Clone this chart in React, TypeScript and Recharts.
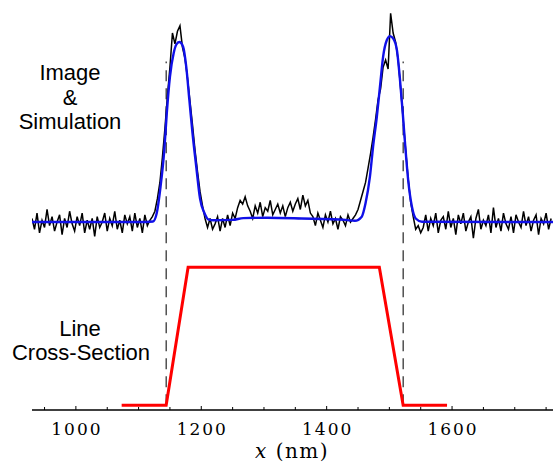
import { ComposedChart, Line, XAxis, YAxis, ReferenceLine } from "recharts";

// measured image profile, sampled every 4 nm from 930 nm
const signalStart = 930;
const signalStep = 4;
const signalValues = [
  // 930 - 1118
  0.02, -0.04, 0.05, -0.06, 0.01, -0.03, 0.07, -0.02, 0.03, -0.05,
  0.0, 0.04, -0.07, 0.02, -0.03, 0.06, -0.01, -0.05, 0.03, -0.02,
  0.05, -0.06, 0.01, -0.04, 0.02, -0.08, 0.03, -0.03, 0.0, 0.05,
  -0.05, 0.02, -0.02, 0.06, -0.04, 0.01, -0.06, 0.04, -0.01, 0.03,
  -0.05, 0.05, -0.03, 0.02, -0.06, 0.04, -0.02, 0.01,
  // 1122 - 1218 (left edge)
  0.03, 0.06, 0.13, 0.22, 0.36, 0.52, 0.7, 0.86, 1.05, 0.99,
  1.06, 1.09, 0.97, 0.91, 0.8, 0.67, 0.54, 0.4, 0.28, 0.17,
  0.09, 0.02, -0.03, 0.02, -0.04,
  // 1222 - 1442 (top of line)
  -0.01, 0.03, -0.05, 0.02, -0.03, 0.04, -0.02, 0.05, 0.02,
  0.08, 0.12, 0.1, 0.14, 0.09, 0.06,
  0.02, 0.09, 0.05, 0.11, 0.03, 0.08, 0.06, 0.12, 0.04, 0.07,
  0.1, 0.05, 0.09, 0.03, 0.08, 0.11, 0.06, 0.1, 0.13, 0.07,
  0.15, 0.09, 0.12, 0.05,
  0.03, -0.02, 0.05, 0.01, -0.03, 0.04, 0.0, 0.06, -0.01, 0.02,
  -0.04, 0.03, 0.01, -0.02, 0.04, 0.0, 0.02,
  // 1446 - 1550 (right edge)
  0.04, 0.07, 0.12, 0.17, 0.22, 0.3, 0.38, 0.47, 0.57, 0.68,
  0.74, 0.86, 0.9, 0.85, 1.16, 1.05, 1.0, 0.9, 0.74, 0.57,
  0.4, 0.24, 0.11, 0.03, -0.04, -0.02, -0.06,
  // 1554 - 1758
  -0.03, 0.04, -0.05, 0.02, -0.02, 0.05, -0.06, 0.01, 0.03, -0.04,
  0.06, -0.03, 0.02, -0.07, 0.04, -0.01, 0.05, -0.05, 0.0, 0.03,
  -0.09, 0.02, 0.07, -0.04, 0.01, -0.02, 0.04, -0.06, 0.08, -0.03,
  0.02, -0.05, 0.05, -0.01, -0.04, 0.03, -0.06, 0.04, 0.0, -0.03,
  0.06, -0.02, 0.03, -0.05, 0.01, 0.04, -0.07, 0.02, -0.01, 0.05,
  -0.04, 0.02,
];

// simulated profile
const fitNm = [
  930, 1100, 1123, 1129, 1135, 1141, 1145, 1150, 1156, 1160, 1165, 1171,
  1176, 1181, 1186, 1192, 1198, 1205, 1211, 1220, 1250, 1267, 1305, 1360,
  1430, 1445, 1456, 1462, 1469, 1474, 1480, 1485, 1490, 1496, 1501, 1506,
  1512, 1517, 1521, 1525, 1530, 1536, 1542, 1552, 1761,
];
const fitValues = [
  0, 0, 0.003, 0.05, 0.196, 0.4, 0.605, 0.807, 0.939, 0.985, 1.0, 0.974,
  0.863, 0.678, 0.494, 0.307, 0.13, 0.05, 0.015, 0.01, 0.012, 0.022, 0.024, 0.02,
  0.012, 0.007, 0.03, 0.104, 0.252, 0.418, 0.585, 0.752, 0.918, 1.011, 1.033, 1.02,
  0.956, 0.789, 0.622, 0.437, 0.233, 0.085, 0.02, 0.002, 0,
];

// line cross-section (trapezoid)
const sectionNm = [1073, 1144, 1179, 1484, 1522, 1592];
const sectionValues = [0, 0, 1, 1, 0, 0];

// dashed guides at the foot of each sidewall
const edgeNm = [1144, 1522];
const edgeTop = 2.49;

const xTicks = [
  950, 1000, 1050, 1100, 1150, 1200, 1250, 1300, 1350, 1400, 1450, 1500,
  1550, 1600, 1650, 1700, 1750,
];
const labeledTicks = [1000, 1200, 1400, 1600];

const signalData = signalValues.map((v, i) => ({ x: signalStart + i * signalStep, y: v }));
const fitData = fitNm.map((x, i) => ({ x, y: fitValues[i] }));
const sectionData = sectionNm.map((x, i) => ({ x, y: sectionValues[i] }));

function AxisTick(props: any) {
  const { x, y, payload } = props;
  const v = payload.value;
  const major = labeledTicks.includes(v);
  return (
    <g>
      <line x1={x} x2={x} y1={y} y2={y - (major ? 4 : 3)} stroke="#000" strokeWidth={1} />
      {major && (
        <text
          x={x + 1}
          y={y + 25}
          textAnchor="middle"
          fontFamily="DejaVu Serif"
          fontSize={17}
          letterSpacing={2}
          fill="#000"
        >
          {v}
        </text>
      )}
    </g>
  );
}

export default function App() {
  return (
    <div style={{ position: "absolute", left: 0, top: 0, width: 553, height: 464, background: "#fff" }}>
      <ComposedChart width={553} height={464} margin={{ top: 10, right: 0, bottom: 0, left: 32 }}>
        <XAxis
          dataKey="x"
          type="number"
          domain={[930, 1761]}
          allowDataOverflow
          ticks={xTicks}
          interval={0}
          height={54}
          tickSize={0}
          tickMargin={0}
          tickLine={false}
          tick={<AxisTick />}
          axisLine={{ stroke: "#000", strokeWidth: 1.3 }}
        />
        <YAxis yAxisId="sig" type="number" domain={[-1.044, 1.178]} allowDataOverflow hide width={0} />
        <YAxis yAxisId="cs" type="number" domain={[-0.034, 2.864]} allowDataOverflow hide width={0} />
        {edgeNm.map((n) => (
          <ReferenceLine
            key={n}
            yAxisId="cs"
            segment={[{ x: n, y: 0 }, { x: n, y: edgeTop }]}
            stroke="#111"
            strokeWidth={1.1}
            strokeDasharray="11 7"
          />
        ))}
        <Line
          yAxisId="sig"
          data={signalData}
          dataKey="y"
          type="linear"
          stroke="#000"
          strokeWidth={1.5}
          dot={false}
          isAnimationActive={false}
        />
        <Line
          yAxisId="sig"
          data={fitData}
          dataKey="y"
          type="monotone"
          stroke="#1010e8"
          strokeWidth={2.4}
          dot={false}
          isAnimationActive={false}
        />
        <Line
          yAxisId="cs"
          data={sectionData}
          dataKey="y"
          type="linear"
          stroke="#f00"
          strokeWidth={3}
          dot={false}
          isAnimationActive={false}
        />
      </ComposedChart>
      <svg
        width={553}
        height={464}
        style={{ position: "absolute", left: 0, top: 0, pointerEvents: "none" }}
      >
        <g fontFamily="Liberation Sans" fontSize={22} fill="#000" textAnchor="middle">
          <text x={70} y={80}>Image</text>
          <text x={70} y={105}>&amp;</text>
          <text x={70} y={129}>Simulation</text>
          <text x={80} y={336}>Line</text>
          <text x={81} y={360}>Cross-Section</text>
        </g>
        <text x={255} y={458} fontFamily="DejaVu Serif" fontSize={20} letterSpacing={1.5} fill="#000">
          <tspan fontStyle="italic">x</tspan> (nm)
        </text>
      </svg>
    </div>
  );
}
